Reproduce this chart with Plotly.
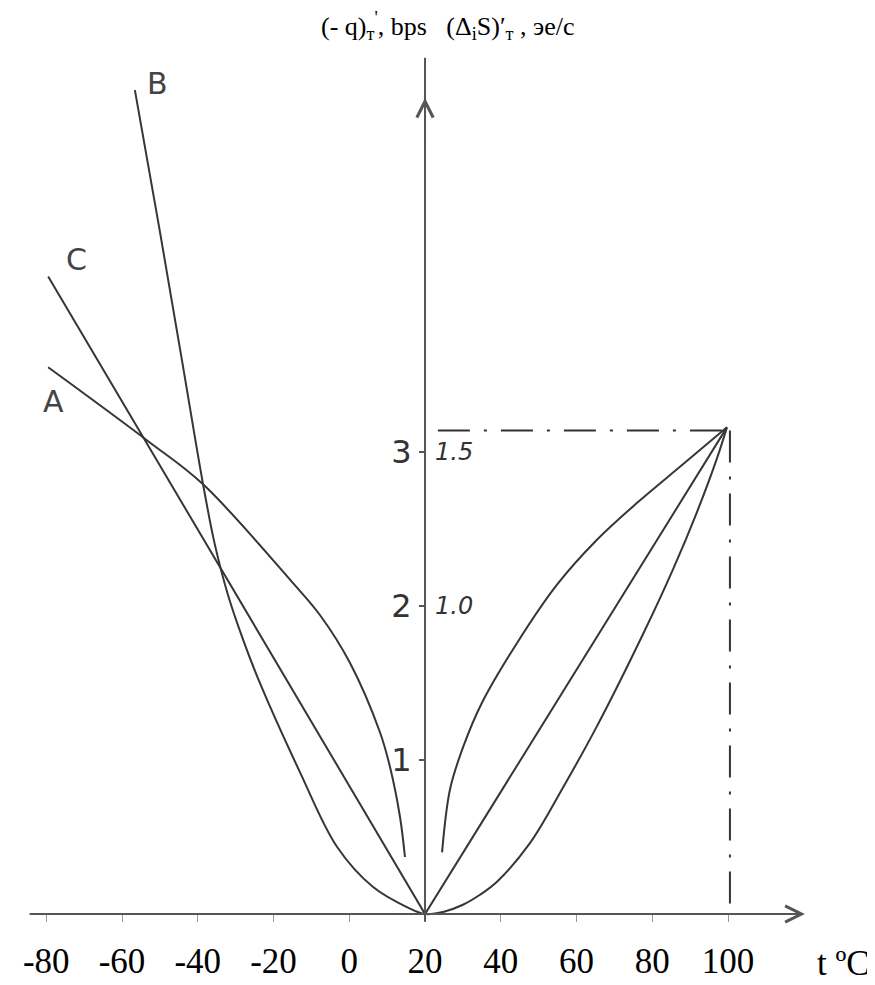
import plotly.graph_objects as go

# curve A (two branches, broken near the axis)
a_t_left = [-79.5, -53.1, -38.6, -14.9, -7.7, 0.2, 8.1, 10.8, 13.4, 14.7]
a_v_left = [3.55, 3.07, 2.79, 2.15, 1.94, 1.63, 1.18, 0.95, 0.63, 0.37]
a_t_right = [24.5, 26.6, 30.0, 35.0, 44.3, 54.9, 65.4, 76.0, 88.1, 99.7]
a_v_right = [0.40, 0.81, 1.08, 1.37, 1.76, 2.14, 2.43, 2.67, 2.92, 3.16]

# curve B
b_t = [-56.6, -50.2, -44.2, -38.6, -35.5, -32.0, -28.3, -23.6, -13.0, -3.2, 6.3, 15.2, 20,
       25.0, 30.0, 34.5, 39.0, 47.7, 56.4, 65.4, 77.6, 85.5, 91.8, 97.1, 99.7]
b_v = [5.35, 4.46, 3.60, 2.79, 2.40, 2.07, 1.80, 1.50, 0.92, 0.435, 0.175, 0.045, 0,
       0.015, 0.06, 0.125, 0.21, 0.46, 0.82, 1.22, 1.82, 2.24, 2.61, 2.96, 3.16]

# curve C (straight lines)
c_t = [-79.5, 20, 99.7]
c_v = [4.14, 0, 3.16]

# dash-dot guide lines to the point t = 100
guide_h_t = [23.4, 99.7]
guide_h_v = [3.14, 3.14]
guide_v_t = [100.5, 100.5]
guide_v_v = [3.14, 0]

x_ticks = [-80, -60, -40, -20, 0, 20, 40, 60, 80, 100]
x_ticktext = ["-80", "-60", "-40", "-20", "0", "20", "40", "60", "80", "100"]
y_ticks = [1, 2, 3]
y_ticktext = ["1", "2", "3"]
y2_ticks = [2, 3]
y2_ticktext = ["1.0", "1.5"]

curve_labels = ["A", "B", "C"]
label_t = [-78.0, -50.5, -71.9]
label_v = [3.33, 5.39, 4.25]

ink = "#363636"
axis_col = "#555555"
serif = "Liberation Serif, Times New Roman, serif"
hand = "DejaVu Sans"

fig = go.Figure()
smooth = dict(color=ink, width=2, shape="spline", smoothing=1.0)
fig.add_trace(go.Scatter(x=a_t_left, y=a_v_left, mode="lines", line=smooth))
fig.add_trace(go.Scatter(x=a_t_right, y=a_v_right, mode="lines", line=smooth))
fig.add_trace(go.Scatter(x=b_t, y=b_v, mode="lines", line=smooth))
fig.add_trace(go.Scatter(x=c_t, y=c_v, mode="lines", line=dict(color=ink, width=2)))
dashdot = dict(color="#333333", width=2, dash="32px,14px,3px,14px")
fig.add_trace(go.Scatter(x=guide_h_t, y=guide_h_v, mode="lines", line=dashdot, yaxis="y2"))
fig.add_trace(go.Scatter(x=guide_v_t, y=guide_v_v, mode="lines", line=dashdot, yaxis="y2"))

for txt, tx, ty in zip(curve_labels, label_t, label_v):
    fig.add_annotation(x=tx, y=ty, text=txt, showarrow=False,
                       font=dict(family=hand, size=30, color="#444444"))

# axes: x as an arrow, y as a line with the arrow head part way up
fig.add_annotation(x=120.3, y=0, ax=-84.8, ay=0, axref="x", ayref="y", text="",
                   showarrow=True, arrowhead=5, arrowsize=1.6, arrowwidth=2, arrowcolor=axis_col)
fig.add_shape(type="line", x0=20, x1=20, y0=-0.05, y1=5.56, line=dict(color=axis_col, width=2))
fig.add_annotation(x=20, y=5.30, ax=20, ay=5.0, axref="x", ayref="y", text="",
                   showarrow=True, arrowhead=5, arrowsize=1.6, arrowwidth=2, arrowcolor=axis_col)

fig.add_annotation(x=137.9, y=-0.0449, xref="x", yref="paper", text="t ºC", showarrow=False,
                   xanchor="right", yanchor="middle", font=dict(family=serif, size=35, color="black"))
fig.add_annotation(x=0.5075, y=0.980, xref="paper", yref="paper", showarrow=False,
                   yanchor="middle",
                   text="(- q)<sub>т</sub><sup>'</sup>, bps   (Δ<sub>i</sub>S)′<sub>т</sub> , эе/с",
                   font=dict(family=serif, size=26, color="black"))

yrange = [-0.052, 5.883]
fig.update_layout(
    width=867, height=977,
    margin=dict(l=0, r=0, t=0, b=63),
    paper_bgcolor="white", plot_bgcolor="white",
    showlegend=False,
    xaxis=dict(range=[-90.1, 138.8], showgrid=False, zeroline=False, showline=False,
               automargin=False,
               tickvals=x_ticks, ticktext=x_ticktext, ticks="inside", ticklen=8,
               tickcolor="#999999", tickwidth=1, ticklabelstandoff=15,
               tickfont=dict(family=serif, size=35, color="black")),
    yaxis=dict(range=yrange, anchor="free", position=0.481, showgrid=False,
               zeroline=False, showline=False, automargin=False,
               tickvals=y_ticks, ticktext=y_ticktext,
               ticks="outside", ticklen=6, tickwidth=2, tickcolor=axis_col,
               ticklabelstandoff=1,
               tickfont=dict(family=hand, size=32, color="#333333")),
    yaxis2=dict(range=yrange, overlaying="y", side="right", anchor="free",
                position=0.481, showgrid=False, zeroline=False, showline=False,
                automargin=False,
                tickvals=y2_ticks, ticktext=y2_ticktext, ticks="", ticklabelstandoff=9,
                tickfont=dict(family=hand, size=24, color="#333333", style="italic")),
)

fig.write_html("out.html")
